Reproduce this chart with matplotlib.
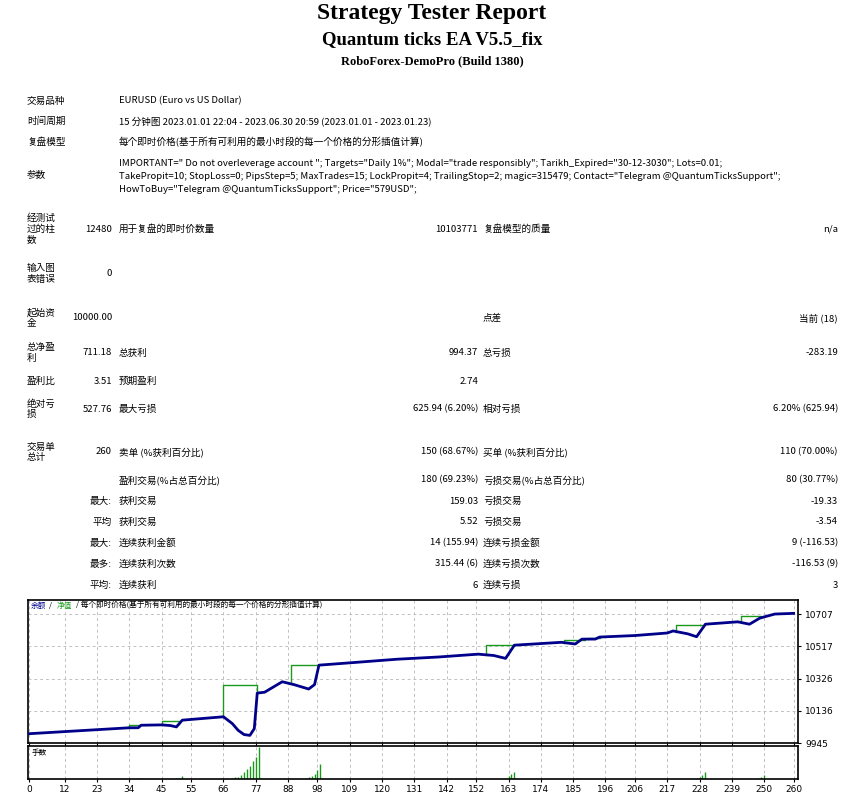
import matplotlib
matplotlib.use("Agg")
import matplotlib.pyplot as plt
from matplotlib import font_manager
import numpy as np

W, H = 854, 797
cjk_names = sorted({f.name for f in font_manager.fontManager.ttflist if "CJK" in f.name})
CJK = ["Noto Sans CJK SC"] + cjk_names + ["DejaVu Sans"]

# header info rows: (label, value)
info_labels = ["交易品种", "时间周期", "复盘模型"]
info_values = [
    "EURUSD (Euro vs US Dollar)",
    "15 分钟图 2023.01.01 22:04 - 2023.06.30 20:59 (2023.01.01 - 2023.01.23)",
    "每个即时价格(基于所有可利用的最小时段的每一个价格的分形插值计算)",
]
param_lines = [
    'IMPORTANT=" Do not overleverage account "; Targets="Daily 1%"; Modal="trade responsibly"; Tarikh_Expired="30-12-3030"; Lots=0.01;',
    'TakePropit=10; StopLoss=0; PipsStep=5; MaxTrades=15; LockPropit=4; TrailingStop=2; magic=315479; Contact="Telegram @QuantumTicksSupport";',
    'HowToBuy="Telegram @QuantumTicksSupport"; Price="579USD";',
]

# stats rows: y, label, value1, label2, value2, label3, value3
stat_rows = [
    (229, "经测试\n过的柱\n数", "12480", "用于复盘的即时价数量", "10103771", "复盘模型的质量", "n/a"),
    (274, "输入图\n表错误", "0", "", "", "", ""),
    (318, "起始资\n金", "10000.00", "", "", "点差", "当前 (18)"),
    (353, "总净盈\n利", "711.18", "总获利", "994.37", "总亏损", "-283.19"),
    (381, "盈利比", "3.51", "预期盈利", "2.74", "", ""),
    (409, "绝对亏\n损", "527.76", "最大亏损", "625.94 (6.20%)", "相对亏损", "6.20% (625.94)"),
    (452, "交易单\n总计", "260", "卖单 (%获利百分比)", "150 (68.67%)", "买单 (%获利百分比)", "110 (70.00%)"),
    (480, "", "", "盈利交易(%占总百分比)", "180 (69.23%)", "亏损交易(%占总百分比)", "80 (30.77%)"),
    (501, "", "最大:", "获利交易", "159.03", "亏损交易", "-19.33"),
    (522, "", "平均", "获利交易", "5.52", "亏损交易", "-3.54"),
    (543, "", "最大:", "连续获利金额", "14 (155.94)", "连续亏损金额", "9 (-116.53)"),
    (564, "", "最多:", "连续获利次数", "315.44 (6)", "连续亏损次数", "-116.53 (9)"),
    (585, "", "平均:", "连续获利", "6", "连续亏损", "3"),
]

# balance curve (trade number, value)
bal_x = [0, 34, 37, 38, 45, 48, 50, 52, 66, 69, 71, 73, 75, 76.5, 77.5, 80, 86, 90, 95, 97, 98.5,
         110, 125, 139, 152.7, 158, 162, 165, 181, 185.7, 188, 192.5, 194, 206, 217, 219,
         224, 227, 230, 241, 245, 248.5, 253.6, 260]
bal_y = [10000, 10035, 10035, 10050, 10052, 10048, 10040, 10080, 10100, 10060, 10020, 9995,
         9990, 10030, 10240, 10245, 10307, 10290, 10264, 10290, 10405, 10420, 10440, 10453, 10470,
         10462, 10445, 10523, 10540, 10530, 10559, 10559, 10571, 10580, 10595, 10607, 10590,
         10573, 10647, 10661, 10647, 10683, 10707, 10711]

# equity segments where it departs from balance: (start, end, level)
eq_segments = [
    (34, 38, 10051), (45, 51, 10077), (66, 77.5, 10290), (89, 98.5, 10405),
    (155.5, 165, 10523), (182, 189, 10552), (190, 194, 10565),
    (220, 230, 10645), (242, 249, 10695),
]

# volume (lots) per trade
vol_x = [37, 38, 50, 51, 52, 69, 70, 71, 72, 73, 74, 75, 76, 77, 78,
         94, 95, 96, 97, 98, 99, 162, 163, 164, 165, 186, 187,
         227, 228, 229, 230, 248, 249, 250]
vol_y = [0.01, 0.01, 0.01, 0.01, 0.03, 0.01, 0.02, 0.02, 0.04, 0.07, 0.09, 0.12, 0.17, 0.21, 0.30,
         0.01, 0.02, 0.03, 0.05, 0.08, 0.14, 0.01, 0.03, 0.05, 0.07, 0.005, 0.005,
         0.01, 0.02, 0.04, 0.07, 0.01, 0.02, 0.04]

x_ticks = [0, 12, 23, 34, 45, 55, 66, 77, 88, 98, 109, 120, 131, 142, 152, 163, 174,
           185, 196, 206, 217, 228, 239, 250, 260]
y_ticks = [9945, 10136, 10326, 10517, 10707]


def t(x, y, s, **kw):
    kw.setdefault("fontsize", 6.9)
    kw.setdefault("family", CJK)
    kw.setdefault("va", "center")
    fig.text(x / W, 1 - y / H, s, **kw)


fig = plt.figure(figsize=(W / 100, H / 100), dpi=100)

t(432, 14, "Strategy Tester Report", family="Liberation Serif", fontsize=17, weight="bold", ha="center")
t(432, 40, "Quantum ticks EA V5.5_fix", family="Liberation Serif", fontsize=13.5, weight="bold", ha="center")
t(432, 61, "RoboForex-DemoPro (Build 1380)", family="Liberation Serif", fontsize=9, weight="bold", ha="center")

for i, (lab, val) in enumerate(zip(info_labels, info_values)):
    y = 101 + i * 20.5
    t(27, y, lab)
    t(119, y, val)
t(27, 176, "参数")
for i, line in enumerate(param_lines):
    t(119, 163 + i * 13.5, line)

for y, lab, v1, l2, v2, l3, v3 in stat_rows:
    if lab:
        t(27, y, lab, linespacing=1.15)
    if v1:
        t(112, y, v1, ha="right")
    if l2:
        t(119, y, l2)
    if v2:
        t(478, y, v2, ha="right")
    if l3:
        t(483, y, l3)
    if v3:
        t(838, y, v3, ha="right")

# main chart
ax = fig.add_axes([28 / W, 1 - 743 / H, 770 / W, 143 / H])
ax.plot(bal_x, bal_y, color="#00008b", lw=2, zorder=3)
for x0, x1, lv in eq_segments:
    b0 = np.interp(x0, bal_x, bal_y)
    b1 = np.interp(x1, bal_x, bal_y)
    ax.plot([x0, x0, x1, x1], [b0, lv, lv, b1], color="#1a9a1a", lw=1, zorder=2)
ax.set_xlim(-0.5, 261.5)
ax.set_ylim(9945, 10790)
ax.yaxis.tick_right()
ax.set_yticks(y_ticks)
ax.set_xticks(x_ticks)
ax.tick_params(labelbottom=False, length=2, labelsize=6.5, pad=3)
ax.grid(True, color="#c0c0c0", ls=(0, (3, 3)), lw=0.7)
for s in ax.spines.values():
    s.set_linewidth(1.2)
ax.text(0.003, 0.96, "余额", color="#00008b", transform=ax.transAxes, family=CJK, fontsize=5.5, va="center")
ax.text(0.027, 0.96, "/", color="black", transform=ax.transAxes, family=CJK, fontsize=5.5, va="center")
ax.text(0.037, 0.96, "净值", color="#1a9a1a", transform=ax.transAxes, family=CJK, fontsize=5.5, va="center")
ax.text(0.062, 0.96, "/ 每个即时价格(基于所有可利用的最小时段的每一个价格的分形插值计算)",
        transform=ax.transAxes, family=CJK, fontsize=5.5, va="center")

# volume chart
ax2 = fig.add_axes([28 / W, 1 - 779 / H, 770 / W, 33 / H])
ax2.vlines(vol_x, 0, vol_y, color="#1a9a1a", lw=1)
ax2.set_xlim(-0.5, 261.5)
ax2.set_ylim(0, 0.31)
ax2.set_yticks([])
ax2.set_xticks(x_ticks)
ax2.tick_params(length=2, labelsize=6.5, pad=2)
ax2.grid(True, axis="x", color="#c0c0c0", ls=(0, (3, 3)), lw=0.7)
for s in ax2.spines.values():
    s.set_linewidth(1.2)
ax2.text(0.005, 0.8, "手数", transform=ax2.transAxes, family=CJK, fontsize=5.5, va="center")

fig.savefig("out.png", dpi=100)
